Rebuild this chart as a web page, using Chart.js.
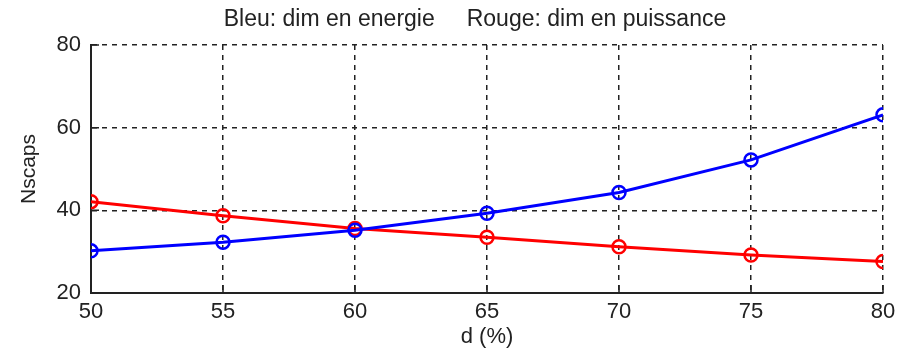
<!DOCTYPE html>
<html>
<head>
<meta charset="utf-8">
<script src="https://cdn.jsdelivr.net/npm/chart.js@4"></script>
<style>
  html, body { margin: 0; padding: 0; background: #fff; }
  #wrap { width: 903px; height: 358px; }
</style>
</head>
<body>
<div id="wrap"><canvas id="myChart" width="903" height="358"></canvas></div>
<script>
// values
const dValues = [50, 55, 60, 65, 70, 75, 80];
const bleuEnergie = [30.2, 32.3, 35.2, 39.3, 44.3, 52.2, 63.1];
const rougePuissance = [42.1, 38.7, 35.6, 33.5, 31.2, 29.2, 27.6];
const yTicks = [20, 40, 60, 80];
const titleText = 'Bleu: dim en energie     Rouge: dim en puissance';

Chart.defaults.font.family = "'Liberation Sans', Arial, sans-serif";
Chart.defaults.color = '#222';

function toPoints(xs, ys) {
  return xs.map((x, i) => ({ x: x, y: ys[i] }));
}

// short inward tick marks like in matlab + title over the plot
const matlabBits = {
  id: 'matlabBits',
  afterDraw(chart) {
    const c = chart.ctx;
    const xs = chart.scales.x, ys = chart.scales.y;
    const a = chart.chartArea;
    c.save();
    c.strokeStyle = '#222';
    c.lineWidth = 1.5;
    c.beginPath();
    dValues.forEach(v => {
      const px = xs.getPixelForValue(v);
      c.moveTo(px, a.bottom); c.lineTo(px, a.bottom - 8);
    });
    yTicks.forEach(v => {
      const py = ys.getPixelForValue(v);
      c.moveTo(a.left, py); c.lineTo(a.left + 8, py);
    });
    c.stroke();

    c.fillStyle = '#222';
    c.font = "23px 'Liberation Sans', Arial, sans-serif";
    c.textAlign = 'center';
    c.textBaseline = 'middle';
    c.fillText(titleText, (a.left + a.right) / 2 - 12, 20);
    c.restore();
  }
};

new Chart('myChart', {
  type: 'line',
  data: {
    datasets: [{
      label: 'Bleu: dim en energie',
      data: toPoints(dValues, bleuEnergie),
      borderColor: '#0000ff',
      backgroundColor: 'rgba(0,0,0,0)',
      borderWidth: 3,
      pointRadius: 6.5,
      pointBorderWidth: 2.5,
      pointBorderColor: '#0000ff',
      pointBackgroundColor: 'rgba(0,0,0,0)',
      tension: 0,
      fill: false
    }, {
      label: 'Rouge: dim en puissance',
      data: toPoints(dValues, rougePuissance),
      borderColor: '#ff0000',
      backgroundColor: 'rgba(0,0,0,0)',
      borderWidth: 3,
      pointRadius: 6.5,
      pointBorderWidth: 2.5,
      pointBorderColor: '#ff0000',
      pointBackgroundColor: 'rgba(0,0,0,0)',
      tension: 0,
      fill: false
    }]
  },
  options: {
    responsive: false,
    animation: false,
    layout: { padding: { left: 0, right: 20, top: 45, bottom: 0 } },
    plugins: {
      legend: { display: false },
      tooltip: { enabled: false },
      title: { display: false }
    },
    scales: {
      x: {
        type: 'linear',
        min: 50,
        max: 80,
        ticks: { stepSize: 5, color: '#222', font: { size: 22 }, padding: 6 },
        grid: { color: '#222', lineWidth: 1.5, drawTicks: false },
        border: { display: true, color: '#222', width: 2, dash: [5, 5] },
        title: { display: true, text: 'd (%)', color: '#222', font: { size: 22 }, padding: { top: 0, bottom: 8 } },
        afterFit(scale) { scale.height = 65; }
      },
      y: {
        min: 20,
        max: 80,
        afterBuildTicks(scale) { scale.ticks = yTicks.map(v => ({ value: v })); },
        ticks: { color: '#222', font: { size: 22 }, padding: 10 },
        grid: { color: '#222', lineWidth: 1.5, drawTicks: false },
        border: { display: true, color: '#222', width: 2, dash: [5, 5] },
        title: { display: true, text: 'Nscaps', color: '#222', font: { size: 21 }, padding: { top: 17, bottom: 0 } },
        afterFit(scale) { scale.width = 91; }
      }
    }
  },
  plugins: [matlabBits]
});
</script>
</body>
</html>
